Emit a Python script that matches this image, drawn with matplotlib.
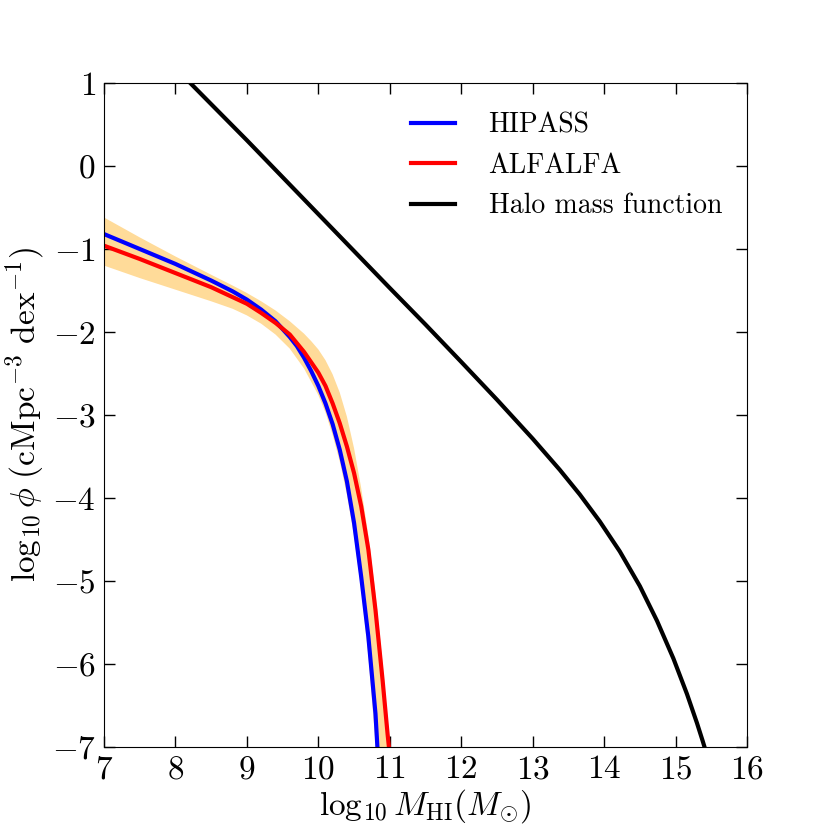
import numpy as np
import matplotlib
matplotlib.use("Agg")
import matplotlib.pyplot as plt

plt.rcParams['font.family'] = 'serif'
plt.rcParams['font.serif'] = ['cmr10']
plt.rcParams['mathtext.fontset'] = 'cm'
plt.rcParams['axes.formatter.use_mathtext'] = True

# HI mass functions (log10 M_HI, log10 phi)
hipass_x = [7.0, 7.5, 8.0, 8.5, 8.8, 9.0, 9.2, 9.4, 9.6, 9.7, 9.8, 9.9, 10.0, 10.1, 10.2, 10.3, 10.4, 10.5, 10.6, 10.7, 10.8, 10.84]
hipass_y = [-0.82, -1.00, -1.18, -1.38, -1.51, -1.61, -1.73, -1.87, -2.06, -2.17, -2.31, -2.47, -2.65, -2.86, -3.11, -3.42, -3.80, -4.30, -4.95, -5.67, -6.60, -7.2]

alfalfa_x = [7.0, 7.5, 8.0, 8.5, 8.8, 9.0, 9.2, 9.4, 9.6, 9.8, 10.0, 10.1, 10.2, 10.3, 10.4, 10.5, 10.6, 10.7, 10.8, 10.9, 10.97, 11.0, 11.02]
alfalfa_y = [-0.96, -1.12, -1.29, -1.46, -1.58, -1.66, -1.77, -1.89, -2.03, -2.24, -2.49, -2.65, -2.86, -3.10, -3.38, -3.70, -4.10, -4.62, -5.35, -6.20, -6.85, -7.10, -7.3]

# uncertainty band: upper (right) and lower (left) edges
band_hi_x = [7.0, 7.5, 8.0, 8.5, 8.8, 9.0, 9.2, 9.4, 9.6, 9.8, 9.9, 10.0, 10.1, 10.2, 10.3, 10.4, 10.5, 10.6, 10.7, 10.8, 10.9, 11.0, 11.04]
band_hi_y = [-0.62, -0.86, -1.09, -1.31, -1.44, -1.53, -1.63, -1.74, -1.87, -2.02, -2.11, -2.21, -2.34, -2.51, -2.73, -3.02, -3.40, -3.88, -4.45, -5.15, -6.00, -6.95, -7.35]
band_lo_x = [7.0, 7.5, 8.0, 8.5, 8.8, 9.0, 9.2, 9.4, 9.6, 9.8, 10.0, 10.1, 10.2, 10.3, 10.4, 10.5, 10.6, 10.7, 10.8, 10.83]
band_lo_y = [-1.20, -1.35, -1.49, -1.63, -1.72, -1.80, -1.90, -2.03, -2.20, -2.44, -2.76, -2.97, -3.24, -3.56, -3.96, -4.46, -5.10, -5.90, -6.95, -7.35]

# halo mass function
halo_x = [8.0, 9.0, 10.0, 11.0, 11.5, 12.0, 12.5, 13.0, 13.38, 13.66, 13.94, 14.22, 14.50, 14.74, 14.97, 15.16, 15.30, 15.38, 15.43]
halo_y = [1.18, 0.31, -0.58, -1.47, -1.91, -2.36, -2.815, -3.285, -3.661, -3.958, -4.283, -4.644, -5.061, -5.479, -5.934, -6.362, -6.712, -6.928, -7.07]

fig = plt.figure(figsize=(8.3, 8.3), dpi=100)
ax = fig.add_axes([104/830, 83/830, 643/830, 664/830])

ax.fill(np.r_[band_hi_x, band_lo_x[::-1]], np.r_[band_hi_y, band_lo_y[::-1]],
        color='orange', alpha=0.4, lw=0)
ax.plot(hipass_x, hipass_y, color='blue', lw=3, label='HIPASS')
ax.plot(alfalfa_x, alfalfa_y, color='red', lw=3, label='ALFALFA')
ax.plot(halo_x, halo_y, color='black', lw=3, label='Halo mass function')

ax.set_xlim(7, 16)
ax.set_ylim(-7, 1)
ax.set_xticks(range(7, 17))
ax.set_yticks(range(-7, 2))
ax.tick_params(which='both', direction='in', top=True, right=True,
               length=8, width=1, pad=6, labelsize=24)

ax.set_xlabel(r'$\log_{10}M_{\rm HI}(M_{\odot})$', fontsize=24, labelpad=2)
ax.set_ylabel(r'$\log_{10}\phi\ (\rm cMpc^{-3}\ dex^{-1})$', fontsize=24, labelpad=4)

ax.legend(loc='upper right', bbox_to_anchor=(1.0, 0.993), frameon=False,
          fontsize=20, handlelength=1.6, handletextpad=1.2)

fig.savefig('out.png', dpi=100)
